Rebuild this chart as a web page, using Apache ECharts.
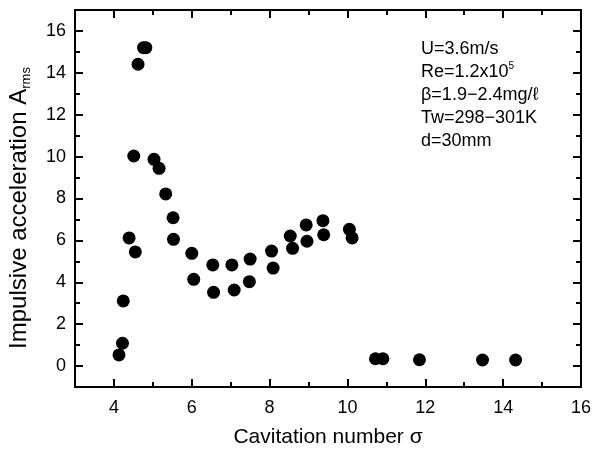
<!DOCTYPE html>
<html>
<head>
<meta charset="utf-8">
<script src="https://cdn.jsdelivr.net/npm/echarts@6/dist/echarts.min.js"></script>
<style>html,body{margin:0;padding:0;background:#fff}#c{width:594px;height:456px}</style>
</head>
<body>
<div id="c"></div>
<script>
const sigma = [4.13,4.22,4.24,4.39,4.55,4.51,4.62,4.76,4.82,5.03,5.16,5.33,5.52,5.53,6.00,6.05,6.54,6.56,7.03,7.09,7.50,7.48,8.05,8.09,8.53,8.59,8.94,8.96,9.37,9.39,10.05,10.12,10.72,10.91,11.85,13.47,14.32];
const aRms  = [0.53,1.09,3.11,6.12,5.45,10.03,14.41,15.20,15.20,9.87,9.44,8.22,7.08,6.05,5.38,4.14,4.83,3.52,4.83,3.63,5.11,4.03,5.49,4.68,6.21,5.62,6.74,5.96,6.94,6.27,6.53,6.12,0.35,0.35,0.30,0.29,0.29];
const xMajor = [4,6,8,10,12,14,16];
const xMinor = [3,5,7,9,11,13,15];
const yMajor = [0,2,4,6,8,10,12,14,16];
const yMinor = [-1,1,3,5,7,9,11,13,15,17];
const notes = ['{t|U=3.6m/s}','{t|Re=1.2x10}{sup|5}','{t|β=1.9−2.4mg/ℓ}','{t|Tw=298−301K}','{t|d=30mm}'];
const xTitle = 'Cavitation number σ';
const yTitle = '{a|Impulsive acceleration A}{s|rms}';

const FONT = 'Liberation Sans';
const black = '#000';
function xAx(pos, ticks, len, labels, extra) {
  return Object.assign({
    type:'value', min:3, max:16, position:pos, gridIndex:0,
    axisLine:{show:true, onZero:false, lineStyle:{color:black, width:2}},
    axisTick:{show:true, inside:true, length:len, customValues:ticks, lineStyle:{color:black, width:2}},
    axisLabel:{show:labels, customValues:ticks, color:black, fontFamily:FONT, fontSize:18, margin:12},
    splitLine:{show:false}
  }, extra||{});
}
function yAx(pos, ticks, len, labels, extra) {
  return Object.assign({
    type:'value', min:-1, max:17, position:pos, gridIndex:0,
    axisLine:{show:true, onZero:false, lineStyle:{color:black, width:2}},
    axisTick:{show:true, inside:true, length:len, customValues:ticks, lineStyle:{color:black, width:2}},
    axisLabel:{show:labels, customValues:ticks, color:black, fontFamily:FONT, fontSize:18, margin:9},
    splitLine:{show:false}
  }, extra||{});
}
const chart = echarts.init(document.getElementById('c'), null, {renderer:'canvas'});
chart.setOption({
  animation:false,
  backgroundColor:'#fff',
  grid:{left:75, right:11, top:10, bottom:69, containLabel:false},
  xAxis:[
    xAx('bottom', xMajor, 8, true, {name:xTitle, nameLocation:'middle', nameGap:40,
      nameTextStyle:{color:black, fontFamily:FONT, fontSize:21}}),
    xAx('bottom', xMinor, 5, false),
    xAx('top', xMajor, 8, false),
    xAx('top', xMinor, 5, false)
  ],
  yAxis:[
    yAx('left', yMajor, 8, true),
    yAx('left', yMinor, 5, false),
    yAx('right', yMajor, 8, false),
    yAx('right', yMinor, 5, false)
  ],
  graphic:[{
    type:'text', left:421, top:38,
    style:{
      text: notes.join('\n'),
      fontFamily:FONT, fontSize:18, fill:black, lineHeight:23,
      rich:{
        t:{fontFamily:FONT, fontSize:18, fill:black, lineHeight:23},
        sup:{fontFamily:FONT, fontSize:10, fill:black, verticalAlign:'top', lineHeight:23}
      }
    }
  },{
    type:'text', x:19, y:208, rotation:Math.PI/2,
    style:{
      text: yTitle, align:'center', verticalAlign:'middle',
      fontFamily:FONT, fontSize:24, fill:black, lineHeight:28,
      rich:{
        a:{fontFamily:FONT, fontSize:24, fill:black, lineHeight:28},
        s:{fontFamily:FONT, fontSize:13, fill:black, verticalAlign:'bottom', lineHeight:28}
      }
    }
  }],
  series:[{
    type:'scatter', xAxisIndex:0, yAxisIndex:0,
    symbol:'circle', symbolSize:13,
    itemStyle:{color:black, opacity:1},
    data: sigma.map((s,i)=>[s,aRms[i]])
  }]
});
</script>
</body>
</html>
